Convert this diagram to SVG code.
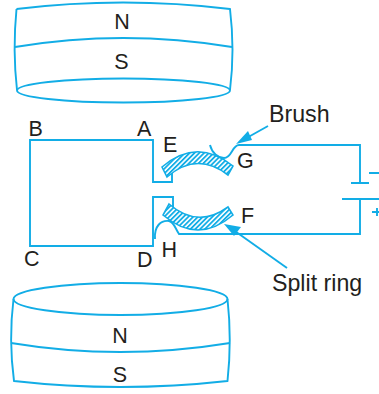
<svg xmlns="http://www.w3.org/2000/svg" width="379" height="394" viewBox="0 0 379 394">
<style>
.l{fill:none;stroke:#12ade6;stroke-width:1.9;stroke-linejoin:miter}
.a{fill:#12ade6;stroke:none}
.r{fill:url(#h);stroke:#12ade6;stroke-width:1.6}
text{font-family:"Liberation Sans",Arial,sans-serif;font-size:21.500px;fill:#231f20}
.b{font-size:23.200px}
</style>
<defs>
<pattern id="h" width="3.4" height="3.4" patternUnits="userSpaceOnUse" patternTransform="rotate(45)">
<rect width="3.4" height="3.4" fill="#fff"/><rect width="1.8" height="3.4" fill="#12ade6"/>
</pattern>
</defs>
<g id="magnet-top">
<path class="l" d="M16.500 9Q123 -4 230 9Q235 50 230 90"/>
<path class="l" d="M16.500 9Q12.500 50 17 90"/>
<path class="l" d="M15 47Q123 29 232 47"/>
<ellipse class="l" cx="123.500" cy="90.500" rx="106.500" ry="12"/>
<text x="122" y="28.500" text-anchor="middle">N</text>
<text x="121.500" y="69" text-anchor="middle">S</text>
</g>
<g id="magnet-bottom">
<ellipse class="l" cx="120.500" cy="299" rx="107" ry="16"/>
<path class="l" d="M13.500 299Q8.500 340 14 381Q120 393 227.500 381Q232 340 227.500 299"/>
<path class="l" d="M11 343Q120 361 230 343"/>
<text x="120" y="342.500" text-anchor="middle">N</text>
<text x="120" y="382" text-anchor="middle">S</text>
</g>
<g id="ring-E"><path class="r" d="M162 167Q197 137 233 166L228 175Q197 151 167 177Z"/></g>
<g id="ring-F"><path class="r" d="M163 215Q198 245 233 215L228 207Q198 229 169 204Z"/></g>
<g id="connectors">
<path class="l" d="M172 173V182H153V140H30V246H153V197H173V207"/>
<path class="l" d="M155 239C154 226 161 220 169 221C174 222 175 228 179 234H360V199"/>
<path class="l" d="M210 145C212 153 218 158 224 158C232 158 232 145 239 145H360V183"/>
<path class="l" d="M351 183H369M342 199H379M369 173H379M372 212H379M377 208V216"/>
<path class="l" d="M268 126L243 140"/>
<path class="a" d="M236 144L248 131L252 140Z"/>
<path class="l" d="M287 268L232 229"/>
<path class="a" d="M224 224L241 227L234 236Z"/>
</g>
<g id="labels">
<text x="137" y="136">A</text>
<text x="28.500" y="136">B</text>
<text x="24" y="266">C</text>
<text x="137" y="267">D</text>
<text x="163" y="152">E</text>
<text x="241" y="223">F</text>
<text x="237" y="168">G</text>
<text x="161.500" y="257">H</text>
<text class="b" x="269" y="121.500">Brush</text>
<text class="b" x="272" y="290.500">Split ring</text>
</g>
</svg>
